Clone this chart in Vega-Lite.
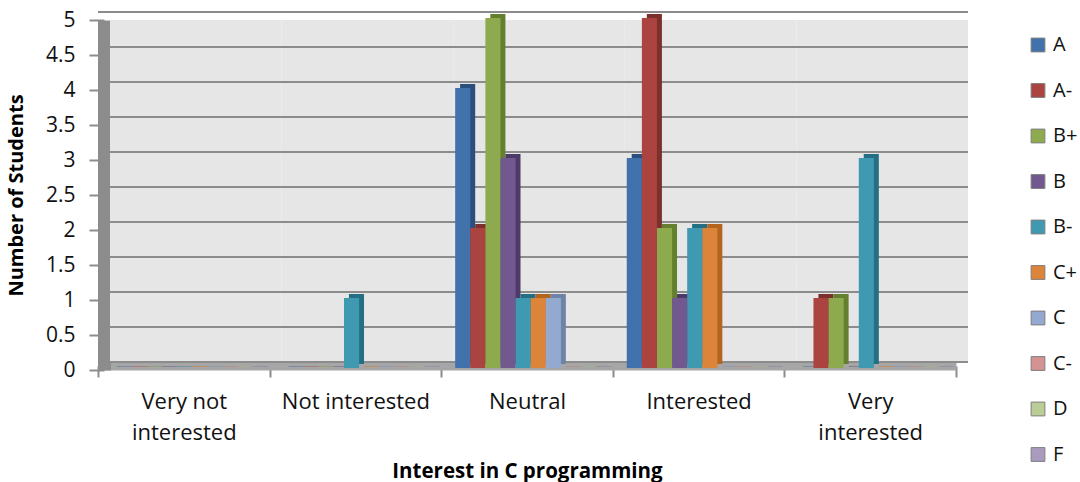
{"$schema":"https://vega.github.io/schema/vega-lite/v6.json","width":858,"height":350,"autosize":"none","padding":{"left":98,"top":20,"right":124,"bottom":112},"background":"white",
"datasets":{"wall":[{"c":"Very not interested","lo":0,"hi":5},{"c":"Not interested","lo":0,"hi":5},{"c":"Neutral","lo":0,"hi":5},{"c":"Interested","lo":0,"hi":5},{"c":"Very interested","lo":0,"hi":5}],
"grid":[{"v":0},{"v":0.5},{"v":1},{"v":1.5},{"v":2},{"v":2.5},{"v":3},{"v":3.5},{"v":4},{"v":4.5},{"v":5}],
"marks":[
{"c":"Very not interested","g":"A","n":0},{"c":"Very not interested","g":"A-","n":0},{"c":"Very not interested","g":"B+","n":0},{"c":"Very not interested","g":"B","n":0},{"c":"Very not interested","g":"B-","n":0},{"c":"Very not interested","g":"C+","n":0},{"c":"Very not interested","g":"C","n":0},{"c":"Very not interested","g":"C-","n":0},{"c":"Very not interested","g":"D","n":0},{"c":"Very not interested","g":"F","n":0},
{"c":"Not interested","g":"A","n":0},{"c":"Not interested","g":"A-","n":0},{"c":"Not interested","g":"B+","n":0},{"c":"Not interested","g":"B","n":0},{"c":"Not interested","g":"B-","n":1},{"c":"Not interested","g":"C+","n":0},{"c":"Not interested","g":"C","n":0},{"c":"Not interested","g":"C-","n":0},{"c":"Not interested","g":"D","n":0},{"c":"Not interested","g":"F","n":0},
{"c":"Neutral","g":"A","n":4},{"c":"Neutral","g":"A-","n":2},{"c":"Neutral","g":"B+","n":5},{"c":"Neutral","g":"B","n":3},{"c":"Neutral","g":"B-","n":1},{"c":"Neutral","g":"C+","n":1},{"c":"Neutral","g":"C","n":1},{"c":"Neutral","g":"C-","n":0},{"c":"Neutral","g":"D","n":0},{"c":"Neutral","g":"F","n":0},
{"c":"Interested","g":"A","n":3},{"c":"Interested","g":"A-","n":5},{"c":"Interested","g":"B+","n":2},{"c":"Interested","g":"B","n":1},{"c":"Interested","g":"B-","n":2},{"c":"Interested","g":"C+","n":2},{"c":"Interested","g":"C","n":0},{"c":"Interested","g":"C-","n":0},{"c":"Interested","g":"D","n":0},{"c":"Interested","g":"F","n":0},
{"c":"Very interested","g":"A","n":0},{"c":"Very interested","g":"A-","n":1},{"c":"Very interested","g":"B+","n":1},{"c":"Very interested","g":"B","n":0},{"c":"Very interested","g":"B-","n":3},{"c":"Very interested","g":"C+","n":0},{"c":"Very interested","g":"C","n":0},{"c":"Very interested","g":"C-","n":0},{"c":"Very interested","g":"D","n":0},{"c":"Very interested","g":"F","n":0}]},
"layer":[
{"data":{"name":"wall"},"mark":{"type":"rect","color":"#e6e6e6","xOffset":12,"yOffset":-8},
"encoding":{"x":{"field":"c","type":"nominal","sort":null,"scale":{"paddingInner":0,"paddingOuter":0},
"axis":{"title":"Interest in C programming","titleFont":"Open Sans","titleFontSize":20.5,"titleFontWeight":"bold","titleColor":"black","titlePadding":18,"labelFont":"Open Sans","labelFontSize":22,"labelColor":"#111","labelAngle":0,"labelPadding":14,"labelLineHeight":31,"domainColor":"#a6a6a6","domainWidth":8,"offset":-4,"tickColor":"#8c8c8c","tickSize":11,"tickWidth":2,"tickBand":"extent","labelLimit":200,"zindex":0,"labelExpr":"datum.label == 'Very not interested' ? ['Very not','interested'] : datum.label == 'Very interested' ? ['Very','interested'] : datum.label"}},
"y":{"field":"lo","type":"quantitative","scale":{"domain":[0,5],"nice":false},
"axis":{"title":"Number of Students","titleFont":"Open Sans","titleFontSize":20,"titleFontWeight":"bold","titleColor":"black","titlePadding":19,"labelFont":"Open Sans","labelFontSize":21,"labelColor":"#111","tickCount":10,"labelOverlap":false,"labelPadding":14,"labelExpr":"'' + datum.value","grid":false,"domainColor":"#8c8c8c","domainWidth":13,"offset":-6,"tickColor":"#8c8c8c","tickSize":15,"tickWidth":2,"zindex":0}},
"y2":{"field":"hi"}}},
{"data":{"name":"grid"},"mark":{"type":"rule","color":"#8c8c8c","strokeWidth":2,"xOffset":12,"yOffset":-8},"encoding":{"y":{"field":"v","type":"quantitative"}}},
{"data":{"name":"marks"},"mark":{"type":"bar","yOffset":-6},
"encoding":{"x":{"field":"c","type":"nominal","sort":null},"xOffset":{"field":"g","type":"nominal","scale":{"domain":["A","A-","B+","B","B-","C+","C","C-","D","F"],"paddingInner":0,"paddingOuter":0.68,"align":0.92}},"y":{"field":"n","type":"quantitative"},
"color":{"field":"g","type":"nominal","legend":null,"scale":{"domain":["A","A-","B+","B","B-","C+","C","C-","D","F"],"range":["#2b4f7c","#7d2f2d","#64802f","#4e3a68","#256f84","#b3641f","#6d83a8","#a96c6b","#92a870","#7f7196"]}}}},
{"data":{"name":"marks"},"transform":[{"filter":"datum.n == 0"}],"mark":{"type":"bar","yOffset":-3},
"encoding":{"x":{"field":"c","type":"nominal","sort":null},"xOffset":{"field":"g","type":"nominal","scale":{"domain":["A","A-","B+","B","B-","C+","C","C-","D","F"],"paddingInner":0,"paddingOuter":0.68,"align":0.92}},"y":{"field":"n","type":"quantitative"},"y2":{"datum":0.05},
"color":{"field":"g","type":"nominal","legend":null,"scale":{"domain":["A","A-","B+","B","B-","C+","C","C-","D","F"],"range":["#4a6d9c","#a35553","#7f9a4f","#6a5387","#3f8ba0","#cc7427","#7b90b8","#bd7f7d","#9db37a","#8a7ba3"]}}}},
{"data":{"name":"marks"},"mark":{"type":"bar","yOffset":-2},
"encoding":{"x":{"field":"c","type":"nominal","sort":null},"xOffset":{"field":"g","type":"nominal","scale":{"domain":["A","A-","B+","B","B-","C+","C","C-","D","F"],"paddingInner":0,"paddingOuter":0.68,"align":0.68}},"y":{"field":"n","type":"quantitative"},
"color":{"field":"g","type":"nominal","sort":["A","A-","B+","B","B-","C+","C","C-","D","F"],"scale":{"domain":["A","A-","B+","B","B-","C+","C","C-","D","F"],"range":["#4272ab","#ab4340","#8dab4e","#71588f","#3f99b1","#dd843b","#94a9d0","#d29392","#bacd96","#a99bbd"]},
"legend":{"title":null,"orient":"none","legendX":930,"legendY":16,"symbolType":"square","symbolSize":190,"symbolStrokeWidth":1,"symbolStrokeColor":"#7f7f7f","labelFont":"Open Sans","labelFontSize":20,"labelColor":"#111","rowPadding":25.5,"labelOffset":5,"clipHeight":18}}}}
],
"resolve":{"scale":{"color":"independent","xOffset":"independent"}},
"config":{"view":{"stroke":null}}}
